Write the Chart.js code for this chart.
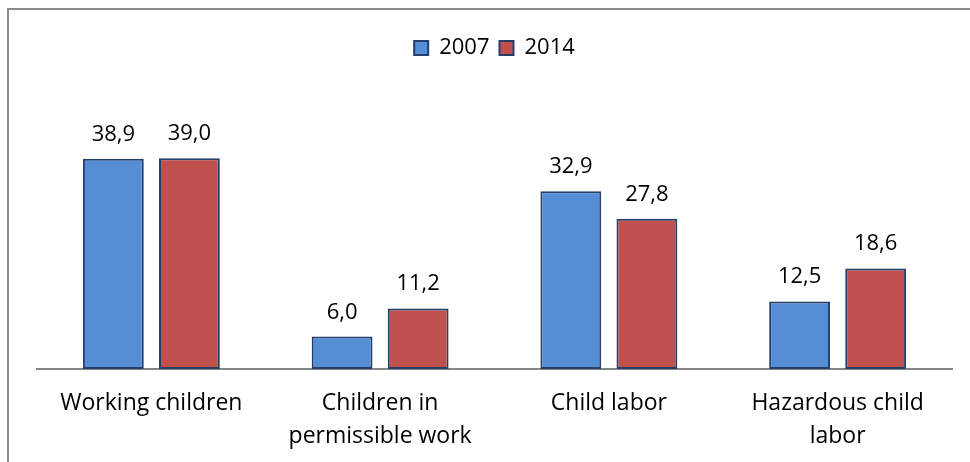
<!DOCTYPE html>
<html>
<head>
<meta charset="utf-8">
<script src="https://cdn.jsdelivr.net/npm/chart.js@4.4.1/dist/chart.umd.min.js"></script>
<style>
  html, body { margin: 0; padding: 0; background: #fff; }
  #wrap { width: 970px; height: 462px; }
</style>
</head>
<body>
<div id="wrap"><canvas id="laborChart" width="970" height="462"></canvas></div>
<script>
// categories and values (percent)
const categories = [
    'Working children',
    ['Children in', 'permissible work'],
    'Child labor',
    ['Hazardous child', 'labor']
];
const seriesNames = ['2007', '2014'];
const values2007 = [38.9, 6.0, 32.9, 12.5];
const values2014 = [39.0, 11.2, 27.8, 18.6];

const FONT = "'Open Sans', 'Noto Sans', sans-serif";

// frame around the picture (only top and left edges visible)
const framePlugin = {
    id: 'frame',
    beforeDraw(chart) {
        const ctx = chart.ctx;
        ctx.save();
        ctx.fillStyle = '#fff';
        ctx.fillRect(0, 0, chart.width, chart.height);
        ctx.strokeStyle = '#8a8a8a';
        ctx.lineWidth = 2;
        ctx.beginPath();
        ctx.moveTo(8, chart.height);
        ctx.lineTo(8, 9);
        ctx.lineTo(chart.width, 9);
        ctx.stroke();
        ctx.restore();
    }
};

// value labels above the bars, with comma decimals
const valueLabels = {
    id: 'valueLabels',
    afterDatasetsDraw(chart) {
        const ctx = chart.ctx;
        ctx.save();
        ctx.font = '22px ' + FONT;
        ctx.fillStyle = '#000';
        ctx.textAlign = 'center';
        ctx.textBaseline = 'alphabetic';
        chart.data.datasets.forEach((ds, i) => {
            chart.getDatasetMeta(i).data.forEach((bar, j) => {
                const txt = ds.data[j].toFixed(1).replace('.', ',');
                ctx.fillText(txt, bar.x, bar.y - 18);
            });
        });
        ctx.restore();
    }
};

const ctx = document.getElementById('laborChart').getContext('2d');
new Chart(ctx, {
    type: 'bar',
    data: {
        labels: categories,
        datasets: [{
            label: seriesNames[0],
            data: values2007,
            backgroundColor: '#558ed5',
            borderColor: '#24406a',
            borderWidth: 2,
            borderSkipped: false
        }, {
            label: seriesNames[1],
            data: values2014,
            backgroundColor: '#c0504d',
            borderColor: '#24406a',
            borderWidth: 2,
            borderSkipped: false
        }]
    },
    options: {
        responsive: false,
        animation: false,
        categoryPercentage: 0.665,
        barPercentage: 0.80,
        layout: {
            padding: { left: 37, right: 18, top: 27, bottom: -9 }
        },
        scales: {
            x: {
                grid: { display: false, drawTicks: false },
                border: { display: true, color: '#868686', width: 2 },
                ticks: {
                    color: '#000',
                    padding: 18,
                    maxRotation: 0,
                    autoSkip: false,
                    font: { family: FONT, size: 23, lineHeight: 1.435 }
                }
            },
            y: {
                display: false,
                min: 0,
                max: 55.5
            }
        },
        plugins: {
            legend: {
                display: true,
                position: 'top',
                labels: {
                    boxWidth: 14,
                    boxHeight: 14,
                    padding: 10,
                    color: '#000',
                    font: { family: FONT, size: 22 }
                }
            },
            tooltip: { enabled: false }
        }
    },
    plugins: [framePlugin, valueLabels]
});
</script>
</body>
</html>
